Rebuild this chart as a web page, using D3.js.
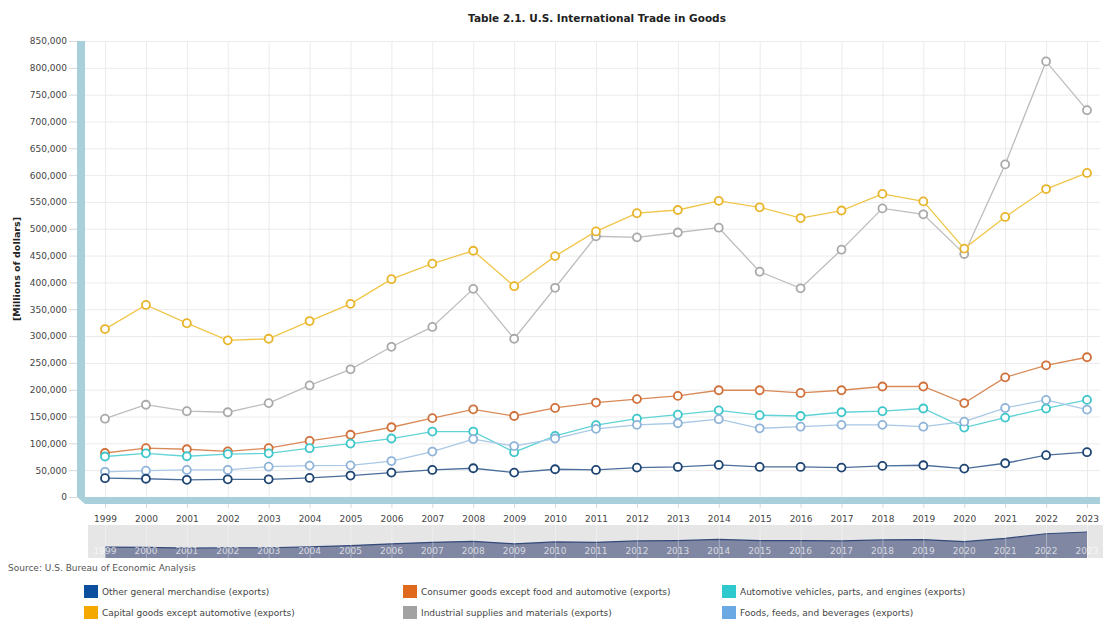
<!DOCTYPE html>
<html>
<head>
<meta charset="utf-8">
<script src="https://cdn.jsdelivr.net/npm/d3@7"></script>
<style>
  body { margin: 0; background: #fff; font-family: "DejaVu Sans", Verdana, sans-serif; }
  .grid line { stroke: #ebebeb; stroke-width: 1; }
  .axis text { fill: #444; font-size: 9px; font-family: "DejaVu Sans", Verdana, sans-serif; }
  .axis line { stroke: #d8d8d8; }
  .axis path { display: none; }
</style>
</head>
<body>
<div id="d3-container"></div>
<script>
/**
 * CONSTANTS AND GLOBALS
 * */
const width = 1103,
  height = 621,
  margin = { top: 41, bottom: 124, left: 85, right: 3 };

let svg, xScale, yScale;

/**
 * DATA (millions of dollars)
 * */
const years = ["1999","2000","2001","2002","2003","2004","2005","2006","2007","2008","2009","2010","2011",
  "2012","2013","2014","2015","2016","2017","2018","2019","2020","2021","2022","2023"];

const otherGeneral = [35000,34000,32000,33000,33000,35500,40000,45500,50400,53600,45500,51700,50400,
  54800,56000,59800,56000,56000,54800,58000,59200,52900,62900,77900,83500];
const consumerGoods = [82000,91000,89000,85000,91000,104500,116000,130000,147000,163500,151000,166000,176000,
  182500,188500,199000,199000,194000,199000,206000,206000,175000,223000,245500,260500];
const automotive = [75500,81500,76000,80000,81500,91000,99500,109000,122000,122000,83500,114000,134000,
  146000,153500,161500,152500,151000,158000,160000,165000,129500,148000,165000,181000];
const capitalGoods = [313000,358000,324000,292000,295000,328000,360000,406000,435000,459000,393000,449000,495000,
  529000,535000,552000,540000,520000,534000,565000,551000,463000,522000,574000,604000];
const industrialSupplies = [146000,172000,160000,158000,175000,208000,238000,280000,317000,388000,295000,390000,486000,
  484000,493000,502000,420000,389000,461000,538000,527000,453000,620000,812000,721000];
const foodsFeeds = [47000,49000,50400,50400,56500,58500,59000,67000,84700,108000,95000,109000,127000,
  134500,137500,145000,128000,131000,134500,134500,131000,140500,166000,181000,163000];

const seriesNames = [
  "Other general merchandise (exports)",
  "Consumer goods except food and automotive (exports)",
  "Automotive vehicles, parts, and engines (exports)",
  "Capital goods except automotive (exports)",
  "Industrial supplies and materials (exports)",
  "Foods, feeds, and beverages (exports)"
];
const seriesValues = [otherGeneral, consumerGoods, automotive, capitalGoods, industrialSupplies, foodsFeeds];

const yTicks = [0,50000,100000,150000,200000,250000,300000,350000,400000,450000,500000,550000,600000,650000,700000,750000,800000,850000];

// colours: legend swatch, line, marker outline
const swatchColors = ["#0b4f9e", "#df6a1d", "#2dc9ce", "#f4a900", "#a2a2a2", "#6aa9e4"];
const lineColors = ["#4a6e99", "#d98a58", "#62d3d6", "#f0c64a", "#bdbdbd", "#a9c8e6"];
const markerColors = ["#1d4472", "#d0703a", "#3cc6cb", "#e8b42a", "#a9a9a9", "#8fb3d9"];

/**
 * INIT
 * */
init();

function init() {
  svg = d3.select("#d3-container")
    .append("svg")
    .attr("width", width)
    .attr("height", height);

  const plotBottom = height - margin.bottom; // 497

  xScale = d3.scalePoint()
    .domain(years)
    .range([105, 1087]);

  yScale = d3.scaleLinear()
    .domain([0, 850000])
    .range([plotBottom, margin.top]);

  // title
  svg.append("text")
    .attr("x", 597)
    .attr("y", 22)
    .attr("text-anchor", "middle")
    .style("font-size", "10.5px")
    .style("font-weight", "bold")
    .style("fill", "#222")
    .text("Table 2.1. U.S. International Trade in Goods");

  // horizontal gridlines
  svg.append("g").attr("class", "grid")
    .selectAll("line")
    .data(yTicks)
    .join("line")
    .attr("x1", margin.left)
    .attr("x2", width - margin.right)
    .attr("y1", d => yScale(d) + 0.5)
    .attr("y2", d => yScale(d) + 0.5);

  // vertical gridlines
  svg.append("g").attr("class", "grid")
    .selectAll("line")
    .data(years)
    .join("line")
    .attr("x1", d => xScale(d) + 0.5)
    .attr("x2", d => xScale(d) + 0.5)
    .attr("y1", margin.top)
    .attr("y2", plotBottom);

  // left wall and floor
  svg.append("rect")
    .attr("x", 77).attr("y", margin.top)
    .attr("width", 8).attr("height", plotBottom - margin.top)
    .attr("fill", "#a9cfdb");
  svg.append("path")
    .attr("d", `M77,${plotBottom} L85,${plotBottom} L${width - 3},${plotBottom} L${width - 3},${plotBottom + 7} L85,${plotBottom + 7} Z`)
    .attr("fill", "#a9cfdb");

  // y axis
  svg.append("g")
    .attr("class", "axis")
    .attr("transform", "translate(77,0)")
    .call(d3.axisLeft(yScale).tickValues(yTicks).tickFormat(d3.format(",")).tickSize(8).tickPadding(2));

  svg.append("text")
    .attr("transform", `translate(20,${(plotBottom + margin.top) / 2}) rotate(-90)`)
    .attr("text-anchor", "middle")
    .style("font-size", "9.5px")
    .style("font-weight", "bold")
    .style("fill", "#222")
    .text("[Millions of dollars]");

  // x axis
  svg.append("g")
    .attr("class", "axis")
    .attr("transform", `translate(0,${plotBottom + 7})`)
    .call(d3.axisBottom(xScale).tickSize(4).tickPadding(8));

  // navigator
  const navTop = 525, navBottom = 558;
  const navY = d3.scaleLinear().domain([0, 90000]).range([navBottom, navTop + 5]);
  svg.append("rect")
    .attr("x", 88).attr("y", navTop)
    .attr("width", width - 88).attr("height", navBottom - navTop)
    .attr("fill", "#e6e6e6");

  const navArea = d3.area()
    .x((d, i) => xScale(years[i]))
    .y0(navBottom)
    .y1(d => navY(d));
  svg.append("path")
    .datum(otherGeneral)
    .attr("d", navArea)
    .attr("fill", "#7f87a3");
  svg.append("path")
    .datum(otherGeneral)
    .attr("d", d3.line().x((d, i) => xScale(years[i])).y(d => navY(d)))
    .attr("fill", "none")
    .attr("stroke", "#34497a")
    .attr("stroke-width", 1.2);

  svg.append("g")
    .selectAll("line")
    .data(years)
    .join("line")
    .attr("x1", d => xScale(d) + 0.5)
    .attr("x2", d => xScale(d) + 0.5)
    .attr("y1", navTop)
    .attr("y2", navBottom)
    .attr("stroke", "#fff")
    .attr("stroke-opacity", 0.35);

  svg.append("g")
    .selectAll("text")
    .data(years)
    .join("text")
    .attr("x", d => xScale(d))
    .attr("y", 554)
    .attr("text-anchor", "middle")
    .style("font-size", "9px")
    .style("fill", "#fff")
    .style("fill-opacity", 0.7)
    .text(d => d);

  // lines and markers
  const line = d3.line()
    .x((d, i) => xScale(years[i]))
    .y(d => yScale(d));

  const drawOrder = [4, 3, 1, 2, 5, 0];
  drawOrder.forEach(s => {
    const g = svg.append("g");
    g.append("path")
      .datum(seriesValues[s])
      .attr("d", line)
      .attr("fill", "none")
      .attr("stroke", lineColors[s])
      .attr("stroke-width", 1.3);
    g.selectAll("circle")
      .data(seriesValues[s])
      .join("circle")
      .attr("cx", (d, i) => xScale(years[i]))
      .attr("cy", d => yScale(d))
      .attr("r", 4)
      .attr("fill", "#fff")
      .attr("stroke", markerColors[s])
      .attr("stroke-width", 1.8);
  });

  // source
  svg.append("text")
    .attr("x", 8)
    .attr("y", 571)
    .style("font-size", "9px")
    .style("fill", "#555")
    .text("Source: U.S. Bureau of Economic Analysis");

  // legend
  const legendX = [84, 403, 722];
  const legendY = [585, 606];
  const legend = svg.append("g")
    .selectAll("g")
    .data(seriesNames)
    .join("g")
    .attr("transform", (d, i) => `translate(${legendX[i % 3]},${legendY[Math.floor(i / 3)]})`);
  legend.append("rect")
    .attr("width", 14).attr("height", 13)
    .attr("fill", (d, i) => swatchColors[i]);
  legend.append("text")
    .attr("x", 18)
    .attr("y", 10)
    .style("font-size", "9px")
    .style("fill", "#444")
    .text(d => d);
}
</script>
</body>
</html>
